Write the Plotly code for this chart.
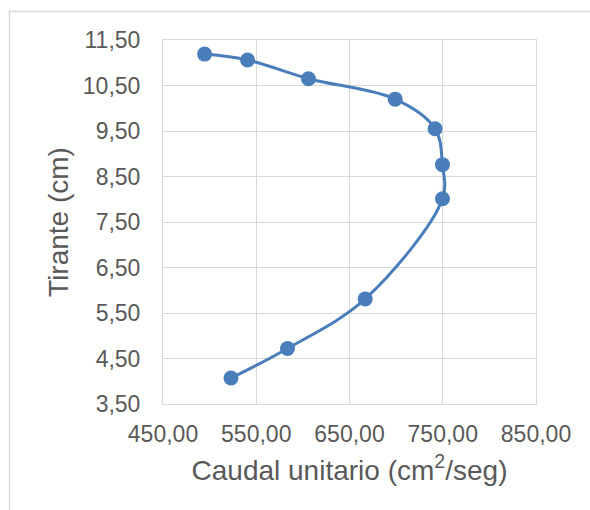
import plotly.graph_objects as go

# Caudal unitario (cm2/seg) vs tirante (cm)
caudal = [494.6, 540.7, 606.0, 699.0, 741.8, 749.7, 749.7, 666.8, 583.5, 522.9]
tirante = [11.19, 11.06, 10.65, 10.20, 9.55, 8.76, 8.01, 5.81, 4.72, 4.07]

x_ticks = [450, 550, 650, 750, 850]
x_labels = ["450,00", "550,00", "650,00", "750,00", "850,00"]
y_ticks = [3.5, 4.5, 5.5, 6.5, 7.5, 8.5, 9.5, 10.5, 11.5]
y_labels = ["3,50", "4,50", "5,50", "6,50", "7,50", "8,50", "9,50", "10,50", "11,50"]

blue = "#4a7ebb"
grid = "#d9d9d9"
txt = "#595959"

fig = go.Figure(go.Scatter(
    x=caudal, y=tirante,
    mode="lines+markers",
    line=dict(color=blue, width=3, shape="spline", smoothing=1),
    marker=dict(color=blue, size=15),
    showlegend=False,
))

fig.update_layout(
    width=590, height=510,
    margin=dict(l=163, r=54, t=40, b=106),
    paper_bgcolor="white", plot_bgcolor="white",
    font=dict(family="Liberation Sans, Arial", size=23, color=txt),
    # outer chart border (left and top edges visible)
    shapes=[dict(type="rect", xref="paper", yref="paper",
                 x0=(9.5 - 163) / 373, x1=(600 - 163) / 373,
                 y0=(404 - 520) / 364, y1=(404 - 11.5) / 364,
                 line=dict(color=grid, width=1.5), layer="below")],
)

fig.update_xaxes(
    range=[450, 850], tickvals=x_ticks, ticktext=x_labels,
    showgrid=True, gridcolor=grid, gridwidth=1,
    showline=True, linecolor=grid, mirror=True, zeroline=False,
    ticks="", ticklabelstandoff=9, automargin=False,
    title=dict(text="Caudal unitario (cm<sup>2</sup>/seg)", standoff=14),
)
fig.update_yaxes(
    range=[3.5, 11.5], tickvals=y_ticks, ticktext=y_labels,
    showgrid=True, gridcolor=grid, gridwidth=1,
    showline=True, linecolor=grid, mirror=True, zeroline=False,
    ticks="", ticklabelstandoff=17, automargin=False,
    title=dict(text="Tirante (cm)", standoff=6),
)

# the page body has a default 8px margin; drop it so the figure sits at 0,0
fig.write_html("out.html", config={"displayModeBar": False},
               post_script="document.body.style.margin='0';")
